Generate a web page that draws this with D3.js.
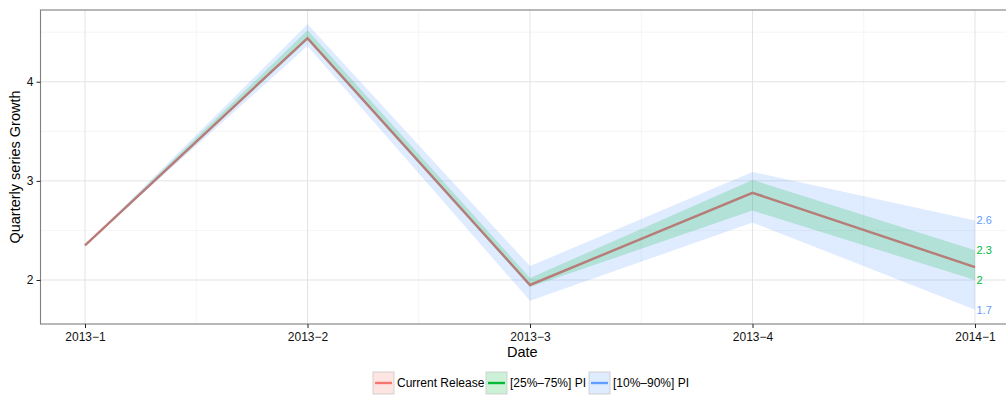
<!DOCTYPE html>
<html>
<head>
<meta charset="utf-8">
<script src="https://cdn.jsdelivr.net/npm/d3@7"></script>
<style>
  html, body { margin: 0; padding: 0; background: #fff; }
  svg { display: block; font-family: "Liberation Sans", Arial, Helvetica, sans-serif; }
</style>
</head>
<body>
<svg id="chart" width="1006" height="396"></svg>
<script>
// Quarterly growth: current release with prediction intervals
const quarters = ["2013\u22121", "2013\u22122", "2013\u22123", "2013\u22124", "2014\u22121"];
const current  = [2.35, 4.44, 1.95, 2.88, 2.13];
const pi25     = [2.35, 4.42, 1.93, 2.70, 2.0];
const pi75     = [2.35, 4.52, 2.02, 3.01, 2.3];
const pi10     = [2.35, 4.36, 1.79, 2.58, 1.7];
const pi90     = [2.35, 4.58, 2.14, 3.09, 2.6];
const yTicks   = [2, 3, 4];
const legendLabels = ["Current Release", "[25%\u201375%] PI", "[10%\u201390%] PI"];

const svg = d3.select("#chart");
const panel = { left: 40.5, right: 1019.5, top: 10, bottom: 324 };

const idx = quarters.map((q, i) => i + 1);
const x = d3.scaleLinear().domain([0.8, 5.2]).range([panel.left, panel.right]);
const allVals = [].concat(current, pi10, pi90, pi25, pi75);
const lo = d3.min(allVals), hi = d3.max(allVals), pad = (hi - lo) * 0.05;
const y = d3.scaleLinear().domain([lo - pad, hi + pad]).range([panel.bottom, panel.top]);

// panel background and grid
svg.append("rect").attr("x", panel.left).attr("y", panel.top)
  .attr("width", panel.right - panel.left).attr("height", panel.bottom - panel.top)
  .attr("fill", "#fff");

const minorY = [1.5, 2.5, 3.5, 4.5].filter(v => v > y.domain()[0] && v < y.domain()[1]);
const minorX = [1.5, 2.5, 3.5, 4.5];
const grid = svg.append("g");
grid.selectAll(".my").data(minorY).join("line")
  .attr("x1", panel.left).attr("x2", panel.right)
  .attr("y1", d => y(d)).attr("y2", d => y(d))
  .attr("stroke", "#f2f2f2").attr("stroke-width", 0.8);
grid.selectAll(".mx").data(minorX).join("line")
  .attr("y1", panel.top).attr("y2", panel.bottom)
  .attr("x1", d => x(d)).attr("x2", d => x(d))
  .attr("stroke", "#f2f2f2").attr("stroke-width", 0.8);
grid.selectAll(".gy").data(yTicks).join("line")
  .attr("x1", panel.left).attr("x2", panel.right)
  .attr("y1", d => y(d)).attr("y2", d => y(d))
  .attr("stroke", "#e3e3e3").attr("stroke-width", 1);
grid.selectAll(".gx").data(idx).join("line")
  .attr("y1", panel.top).attr("y2", panel.bottom)
  .attr("x1", d => x(d)).attr("x2", d => x(d))
  .attr("stroke", "#e3e3e3").attr("stroke-width", 1);

// interval ribbons
const band = (low, high) => d3.area()
  .x((d, i) => x(idx[i]))
  .y0((d, i) => y(low[i]))
  .y1((d, i) => y(high[i]));

svg.append("path").datum(quarters).attr("d", band(pi10, pi90))
  .attr("fill", "#619CFF").attr("fill-opacity", 0.2);
svg.append("path").datum(quarters).attr("d", band(pi25, pi75))
  .attr("fill", "#00BA38").attr("fill-opacity", 0.2);

// current release line
svg.append("path").datum(current)
  .attr("d", d3.line().x((d, i) => x(idx[i])).y(d => y(d)))
  .attr("fill", "none").attr("stroke", "#b77c77").attr("stroke-width", 2.4)
  .attr("stroke-linejoin", "miter");

// end-of-range interval labels
const last = quarters.length - 1;
const endLabels = [
  { v: pi90[last], c: "#619CFF" },
  { v: pi75[last], c: "#00BA38" },
  { v: pi25[last], c: "#00BA38" },
  { v: pi10[last], c: "#619CFF" }
];
svg.append("g").selectAll("text").data(endLabels).join("text")
  .attr("x", x(idx[last]) + 1.5).attr("y", d => y(d.v))
  .attr("dy", "0.35em").attr("font-size", 11).attr("fill", d => d.c)
  .text(d => d3.format("~g")(d.v));

// panel border
svg.append("rect").attr("x", panel.left).attr("y", panel.top)
  .attr("width", panel.right - panel.left).attr("height", panel.bottom - panel.top)
  .attr("fill", "none").attr("stroke", "#7f7f7f").attr("stroke-width", 1.1);

// axes
const xAxis = d3.axisBottom(x).tickValues(idx).tickFormat((d, i) => quarters[i])
  .tickSizeInner(4).tickSizeOuter(0).tickPadding(4);
const gx = svg.append("g").attr("transform", `translate(0,${panel.bottom})`).call(xAxis);
gx.select(".domain").remove();
gx.selectAll("line").attr("stroke", "#222");
gx.selectAll("text").attr("font-size", 12).attr("fill", "#111").attr("font-family", null);

const yAxis = d3.axisLeft(y).tickValues(yTicks).tickFormat(d3.format("d"))
  .tickSizeInner(4).tickSizeOuter(0).tickPadding(3);
const gy = svg.append("g").attr("transform", `translate(${panel.left},0)`).call(yAxis);
gy.select(".domain").remove();
gy.selectAll("line").attr("stroke", "#222");
gy.selectAll("text").attr("font-size", 12).attr("fill", "#111").attr("font-family", null);

// axis titles
svg.append("text").attr("x", (panel.left + 1006) / 2 - 1).attr("y", 357)
  .attr("text-anchor", "middle").attr("font-size", 14.5).attr("fill", "#000").text("Date");
svg.append("text")
  .attr("transform", `translate(20,${(panel.top + panel.bottom) / 2}) rotate(-90)`)
  .attr("text-anchor", "middle").attr("font-size", 14.5).attr("fill", "#000")
  .text("Quarterly series Growth");

// legend
const legendColors = ["#F8766D", "#00BA38", "#619CFF"];
const keyX = [373, 486, 589];
const lg = svg.append("g");
legendLabels.forEach((lab, i) => {
  const g = lg.append("g").attr("transform", `translate(${keyX[i]},372)`);
  g.append("rect").attr("x", 0).attr("y", 0).attr("width", 21).attr("height", 22)
    .attr("fill", legendColors[i]).attr("fill-opacity", 0.2)
    .attr("stroke", "#c8c8c8").attr("stroke-width", 0.8);
  g.append("line").attr("x1", 2).attr("x2", 19).attr("y1", 11).attr("y2", 11)
    .attr("stroke", legendColors[i]).attr("stroke-width", 2.4);
  g.append("text").attr("x", 24).attr("y", 11).attr("dy", "0.35em")
    .attr("font-size", 12).attr("fill", "#000").text(lab);
});
</script>
</body>
</html>
